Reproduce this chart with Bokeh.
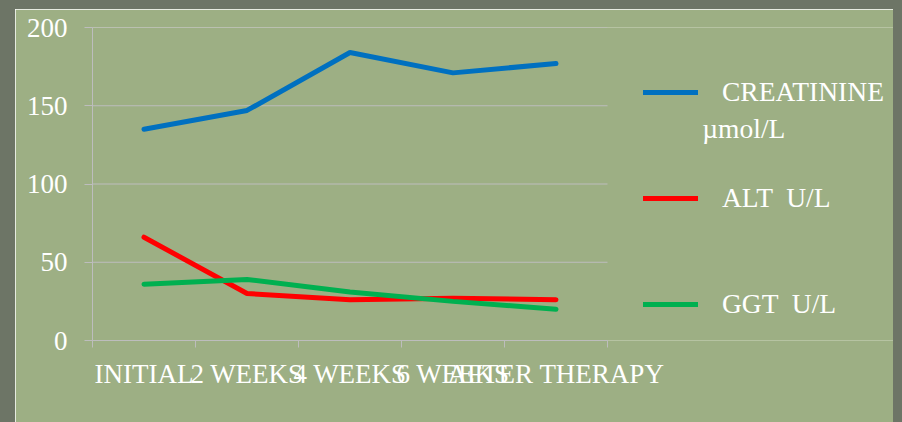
from bokeh.plotting import figure
from bokeh.models import Range1d, FixedTicker, Legend, LegendItem, Label
from bokeh.embed import file_html
from bokeh.resources import INLINE

categories = ["INITIAL", "2 WEEKS", "4 WEEKS", "6 WEEKS", "AFTER THERAPY"]
creatinine = [135, 147, 184, 171, 177]
alt = [66, 30, 26, 27, 26]
ggt = [36, 39, 31, 25, 20]
y_ticks = [0, 50, 100, 150, 200]
series_labels = ["CREATININE", "ALT  U/L", "GGT  U/L"]
unit_label = "\u00b5mol/L"

BG = "#9DAF84"
GRID = "#BDBDBD"
FONT = "Liberation Serif"
FS = "27px"

n = len(categories)
x = [i + 0.5 for i in range(n)]
bounds = list(range(n + 1))

UNIT_PX = 103
FRAME_W = 801
FRAME_H = 313

p = figure(frame_width=FRAME_W, frame_height=FRAME_H,
           min_border_left=77, min_border_top=18, min_border_right=0, min_border_bottom=82,
           x_range=Range1d(0, FRAME_W / UNIT_PX), y_range=Range1d(0, 200),
           output_backend="svg", toolbar_location=None)
p.background_fill_color = BG
p.border_fill_color = BG
p.outline_line_color = None
p.styles = {"border-style": "solid", "border-color": "#6d7566",
            "border-width": "9px 9px 0px 15px"}

# horizontal gridlines limited to the category span
p.xgrid.visible = False
p.ygrid.visible = False
p.segment(x0=[0] * len(y_ticks), x1=[n] * len(y_ticks), y0=y_ticks, y1=y_ticks,
          line_color=GRID, line_width=1)

r1 = p.line(x, creatinine, line_color="#0070C0", line_width=5, line_cap="round")
r2 = p.line(x, alt, line_color="#FF0000", line_width=5, line_cap="round")
r3 = p.line(x, ggt, line_color="#00B050", line_width=5, line_cap="round")

ya = p.yaxis[0]
ya.ticker = FixedTicker(ticks=y_ticks)
ya.axis_line_color = GRID
ya.major_tick_line_color = GRID
ya.major_tick_out = 8
ya.major_tick_in = 0
ya.minor_tick_line_color = None
ya.major_label_standoff = 17
ya.major_label_text_font = FONT
ya.major_label_text_font_size = FS
ya.major_label_text_color = "white"

xa = p.xaxis[0]
xa.ticker = FixedTicker(ticks=x, minor_ticks=bounds)
xa.bounds = (0, n)
xa.axis_line_color = GRID
xa.major_tick_line_color = None
xa.major_tick_out = 0
xa.major_tick_in = 0
xa.minor_tick_line_color = GRID
xa.minor_tick_out = 7
xa.minor_tick_in = 0
xa.major_label_overrides = {xi: c for xi, c in zip(x, categories)}
xa.major_label_standoff = 11
xa.major_label_text_font = FONT
xa.major_label_text_font_size = FS
xa.major_label_text_color = "white"

legend = Legend(items=[LegendItem(label=series_labels[0], renderers=[r1]),
                       LegendItem(label=series_labels[1], renderers=[r2]),
                       LegendItem(label=series_labels[2], renderers=[r3])],
                location=(551, 20), glyph_width=55, glyph_height=30, label_height=30,
                label_standoff=24, spacing=74, padding=0, margin=0,
                border_line_color=None, background_fill_alpha=0,
                label_text_font=FONT, label_text_font_size="27.5px", label_text_color="white")
p.add_layout(legend)

p.add_layout(Label(x=5.92, y=135.5, text=unit_label, text_font=FONT, text_font_size="27.5px",
                   text_color="white", text_baseline="alphabetic"))

open("out.html", "w").write(file_html(p, INLINE))
